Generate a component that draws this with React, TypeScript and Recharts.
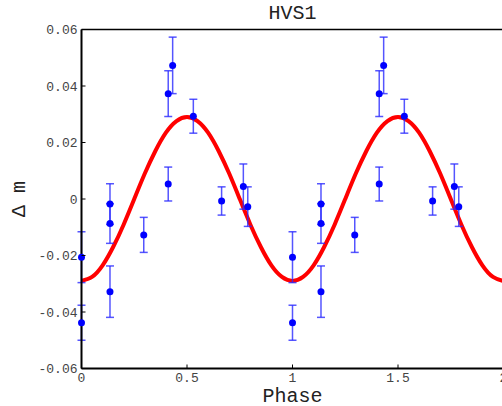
import { ComposedChart, Line, Scatter, ErrorBar, XAxis, YAxis } from "recharts"

// one folded cycle of observations (phase 0..1), plotted twice
const obsPhase = [0, 0, 0.135, 0.135, 0.135, 0.295, 0.411, 0.411, 0.432, 0.53, 0.664, 0.767, 0.788]
const obsMag = [-0.0206, -0.0438, -0.0018, -0.0087, -0.0328, -0.0127, 0.0373, 0.0053, 0.0473, 0.0293, -0.0007, 0.0044, -0.0027]
const obsErr = [0.009, 0.0062, 0.0072, 0.007, 0.0091, 0.0062, 0.0081, 0.006, 0.01, 0.006, 0.005, 0.008, 0.007]

// fitted curve, read every 0.05 in phase over one cycle
const fitPhase = [0, 0.05, 0.1, 0.15, 0.2, 0.25, 0.3, 0.35, 0.4, 0.45, 0.5, 0.55, 0.6, 0.65, 0.7, 0.75, 0.8, 0.85, 0.9, 0.95]
const fitMag = [-0.029, -0.0276, -0.0235, -0.017, -0.009, 0, 0.009, 0.017, 0.0235, 0.0276, 0.029, 0.0276, 0.0235, 0.017, 0.009, 0, -0.009, -0.017, -0.0235, -0.0276]

const cycles = [0, 1]
const xTicks = [0, 0.5, 1, 1.5, 2]
const yTicks = [-0.06, -0.04, -0.02, 0, 0.02, 0.04, 0.06]

const points = cycles.flatMap((c) =>
  obsPhase.map((p, i) => ({ x: p + c, y: obsMag[i], err: obsErr[i] }))
)
const curve = [
  ...cycles.flatMap((c) => fitPhase.map((p, i) => ({ x: p + c, y: fitMag[i] }))),
  { x: 2, y: fitMag[0] },
]

const mono = "Liberation Mono, Nimbus Mono PS, FreeMono, Courier, DejaVu Sans Mono, monospace"

const fmtY = (v: number) => (v === 0 ? "0" : v.toFixed(2))

const LeftTick = (props: any) => {
  const { x, y, payload } = props
  return (
    <g>
      <line x1={x} x2={x + 4} y1={y} y2={y} stroke="#000" />
      <text x={x - 4} y={y} dy="0.35em" textAnchor="end" fontFamily={mono} fontSize={13} fill="#444">
        {fmtY(payload.value)}
      </text>
    </g>
  )
}

const RightTick = (props: any) => {
  const { x, y } = props
  return <line x1={x} x2={x - 4} y1={y} y2={y} stroke="#000" />
}

const BottomTick = (props: any) => {
  const { x, y, payload } = props
  return (
    <g>
      <line x1={x} x2={x} y1={y} y2={y - 4} stroke="#000" />
      <text x={x} y={y + 9} dy="0.35em" textAnchor="middle" fontFamily={mono} fontSize={13} fill="#444">
        {String(payload.value)}
      </text>
    </g>
  )
}

const TopTick = (props: any) => {
  const { x, y } = props
  return <line x1={x} x2={x} y1={y} y2={y + 4} stroke="#000" />
}

export default function App() {
  return (
    <div style={{ position: "fixed", left: 0, top: 0, width: 502, height: 406, overflow: "hidden", background: "#fff" }}>
      <ComposedChart
        width={520}
        height={406}
        margin={{ top: 28.5, right: 15.5, bottom: 36.5, left: 80.5 }}
      >
        <XAxis
          xAxisId={0}
          dataKey="x"
          type="number"
          domain={[0, 2]}
          ticks={xTicks}
          tickSize={0}
          tickMargin={0}
          tickLine={false}
          height={1}
          axisLine={{ stroke: "#000", strokeWidth: 2 }}
          tick={<BottomTick />}
        />
        <XAxis
          xAxisId="top"
          orientation="top"
          type="number"
          domain={[0, 2]}
          ticks={xTicks}
          tickSize={0}
          tickMargin={0}
          tickLine={false}
          height={1}
          axisLine={{ stroke: "#000", strokeWidth: 1.5 }}
          tick={<TopTick />}
        />
        <YAxis
          yAxisId={0}
          type="number"
          domain={[-0.06, 0.06]}
          ticks={yTicks}
          tickSize={0}
          tickMargin={0}
          tickLine={false}
          width={1}
          axisLine={{ stroke: "#000", strokeWidth: 2 }}
          tick={<LeftTick />}
        />
        <YAxis
          yAxisId="right"
          orientation="right"
          type="number"
          domain={[-0.06, 0.06]}
          ticks={yTicks}
          tickSize={0}
          tickMargin={0}
          tickLine={false}
          width={1}
          axisLine={{ stroke: "#000", strokeWidth: 1.5 }}
          tick={<RightTick />}
        />
        <Line
          data={curve}
          dataKey="y"
          type="natural"
          stroke="#ff0000"
          strokeWidth={4}
          dot={false}
          isAnimationActive={false}
        />
        <Scatter data={points} dataKey="y" fill="#0000ff" isAnimationActive={false} shape={(p: any) => <circle cx={p.cx} cy={p.cy} r={3.5} fill="#0000ff" />}>
          <ErrorBar dataKey="err" direction="y" width={4} stroke="#2b2bff" strokeOpacity={0.8} strokeWidth={1.5} />
        </Scatter>
      </ComposedChart>
      <div style={{ position: "absolute", left: 242.5, width: 100, top: 3, textAlign: "center", fontFamily: mono, fontSize: 20, lineHeight: "22px", color: "#222" }}>
        HVS1
      </div>
      <div style={{ position: "absolute", left: 242.5, width: 100, top: 388, textAlign: "center", fontFamily: mono, fontSize: 20, lineHeight: "17px", color: "#222" }}>
        Phase
      </div>
      <div style={{ position: "absolute", left: -30, width: 100, top: 187, textAlign: "center", fontFamily: mono, fontSize: 20, lineHeight: "24px", color: "#222", transform: "rotate(-90deg)" }}>
        Δ m
      </div>
    </div>
  )
}
